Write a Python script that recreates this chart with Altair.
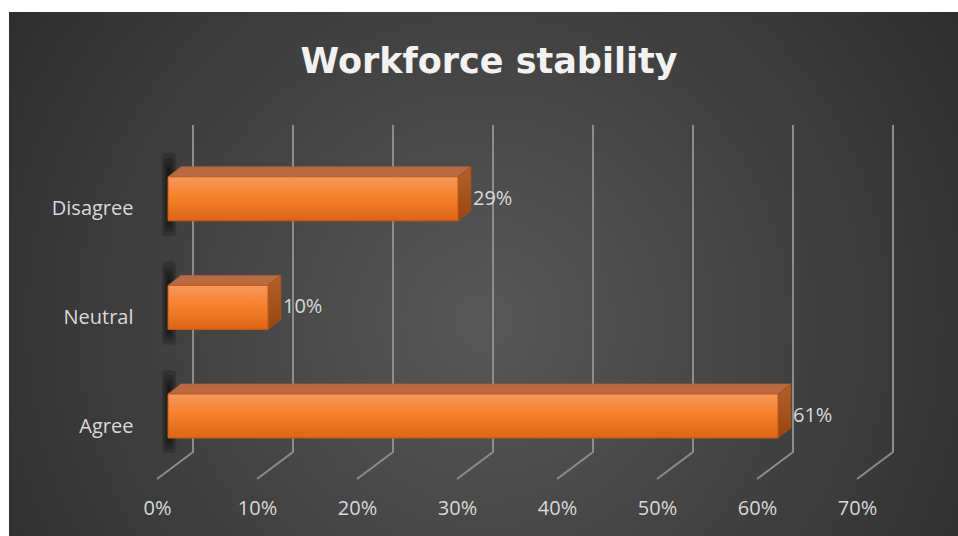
import json
import altair as alt
import pandas as pd

# ---- data ----
categories = ["Agree", "Neutral", "Disagree"]
values = [61, 10, 29]
value_labels = ["61%", "10%", "29%"]
x_ticks = [0, 10, 20, 30, 40, 50, 60, 70]
title_text = "Workforce stability"

# ---- style / geometry constants (3-D look) ----
H = 0.2026          # half bar thickness (category units)
DX = 1.3            # bar depth, x direction (% units)
DY = 0.092          # bar depth, y direction (category units)
Y_TOP = 2.68
Y_BOT = -0.58
FLOOR_BACK = -0.331
GRID_BACK = 2.5
GRID_FRONT = -1.1
LABEL_DX = 1.5
SHADOW_HW = [0.72, 0.52, 0.34, 0.18]   # nested soft-shadow half widths

txt = "#d9d9d9"
FONT = "Open Sans"

XS = alt.Scale(domain=[0, 70], nice=False, zero=False)
YS = alt.Scale(domain=[Y_BOT, Y_TOP], nice=False, zero=False)
X_AX = alt.Axis(values=x_ticks, labelExpr="datum.value + '%'", labelOffset=-11,
                labelPadding=19, ticks=False, tickSize=0, domain=False, grid=False,
                title=None, labelColor=txt, labelFont=FONT, labelFontSize=20,
                labelFlush=False, labelOverlap=False, zindex=2)
Y_AX = alt.Axis(values=list(range(len(categories))),
                labelExpr=json.dumps(categories).replace('"', "'") + "[datum.value]",
                labelOffset=10, labelPadding=35, ticks=False, tickSize=0,
                domain=False, grid=False, title=None, labelColor=txt,
                labelFont=FONT, labelFontSize=20, labelAlign="right",
                labelBaseline="middle", zindex=2)


def X(f):
    return alt.X(f, type="quantitative", scale=XS, axis=X_AX)


def Y(f):
    return alt.Y(f, type="quantitative", scale=YS, axis=Y_AX, stack=None)


one = pd.DataFrame({"t": [title_text]})

# background panel
bg = alt.Chart(one).mark_rect(
    fill={"gradient": "radial", "x1": 0.5, "y1": 0.55, "r1": 0,
          "x2": 0.5, "y2": 0.55, "r2": 0.72,
          "stops": [{"offset": 0, "color": "#585858"},
                    {"offset": 1, "color": "#252525"}]}
).encode(x=alt.value(-159), x2=alt.value(790), y=alt.value(-113), y2=alt.value(411))

# title (drawn as text so the background panel does not push it away)
title = alt.Chart(one).mark_text(
    font="DejaVu Sans", fontSize=35, fontWeight="bold", color="#f2f2f2",
    align="center", baseline="alphabetic"
).encode(x=alt.value(321), y=alt.value(-52), text="t:N")

# gridlines (vertical + floor diagonal)
grid_rows = []
for t in x_ticks:
    grid_rows += [
        {"t": t, "o": 0, "x": t + GRID_BACK, "y": Y_TOP},
        {"t": t, "o": 1, "x": t + GRID_BACK, "y": FLOOR_BACK},
        {"t": t, "o": 2, "x": t + GRID_FRONT, "y": Y_BOT},
    ]
grid = alt.Chart(pd.DataFrame(grid_rows)).mark_line(
    color="#8c8c8c", strokeWidth=2
).encode(x=X("x"), y=Y("y"), detail="t:N", order="o:Q")

# bar table
bars = pd.DataFrame({"cat": categories, "v": values, "lab": value_labels,
                     "c": list(range(len(categories)))})
bars["x0"] = 0
bars["y0"] = bars["c"] - H
bars["y1"] = bars["c"] + H

# soft shadows behind the left end of each bar (nested translucent rects)
sh_rows = []
for i in range(len(categories)):
    for k, hw in enumerate(SHADOW_HW):
        sh_rows.append({"sx0": -hw + 0.1, "sx1": hw + 0.1,
                        "sy0": i - H - 0.14 + 0.035 * k,
                        "sy1": i + H + 0.22 - 0.045 * k})
shadow = alt.Chart(pd.DataFrame(sh_rows)).mark_rect(
    color="black", opacity=0.19, cornerRadius=4
).encode(x=X("sx0"), x2="sx1:Q", y=Y("sy0"), y2="sy1:Q")

# top and side faces as closed polygons
top_rows = []
side_rows = []
for i, (cat, v) in enumerate(zip(categories, values)):
    a = i + H
    pts = [(0, a), (v, a), (v + DX, a + DY), (DX, a + DY), (0, a)]
    top_rows += [{"cat": cat, "o": k, "x": px, "y": py} for k, (px, py) in enumerate(pts)]
    b = i - H
    pts = [(v, b), (v + DX, b + DY), (v + DX, a + DY), (v, a), (v, b)]
    side_rows += [{"cat": cat, "o": k, "x": px, "y": py} for k, (px, py) in enumerate(pts)]

top = alt.Chart(pd.DataFrame(top_rows)).mark_line(
    fill="#b96a40", stroke="#b0623a", strokeWidth=0.8
).encode(x=X("x"), y=Y("y"), detail="cat:N", order="o:Q")

side = alt.Chart(pd.DataFrame(side_rows)).mark_line(
    fill={"gradient": "linear", "x1": 0, "y1": 0, "x2": 0, "y2": 1,
          "stops": [{"offset": 0, "color": "#b4602a"},
                    {"offset": 1, "color": "#984510"}]},
    stroke="#9e4c18", strokeWidth=0.8
).encode(x=X("x"), y=Y("y"), detail="cat:N", order="o:Q")

front = alt.Chart(bars).mark_rect(
    fill={"gradient": "linear", "x1": 0, "y1": 0, "x2": 0, "y2": 1,
          "stops": [{"offset": 0, "color": "#f6985e"},
                    {"offset": 0.45, "color": "#f5822a"},
                    {"offset": 1, "color": "#de6416"}]},
    stroke="#c4581a", strokeWidth=1
).encode(x=X("x0"), x2="v:Q", y=Y("y0"), y2="y1:Q")

lab = bars.copy()
lab["lx"] = lab["v"] + LABEL_DX
labels = alt.Chart(lab).mark_text(
    align="left", baseline="middle", font=FONT, fontSize=20, color=txt
).encode(x=X("lx"), y=Y("c"), text="lab:N")

chart = alt.layer(bg, title, grid, shadow, top, side, front, labels).properties(
    width=700, height=354,
    padding={"left": 168, "top": 125, "right": 90, "bottom": 57},
    autosize=alt.AutoSizeParams(type="none"),
    background="white",
).configure_view(stroke=None)

chart.save("out.html", embed_options={"renderer": "svg", "actions": False})
